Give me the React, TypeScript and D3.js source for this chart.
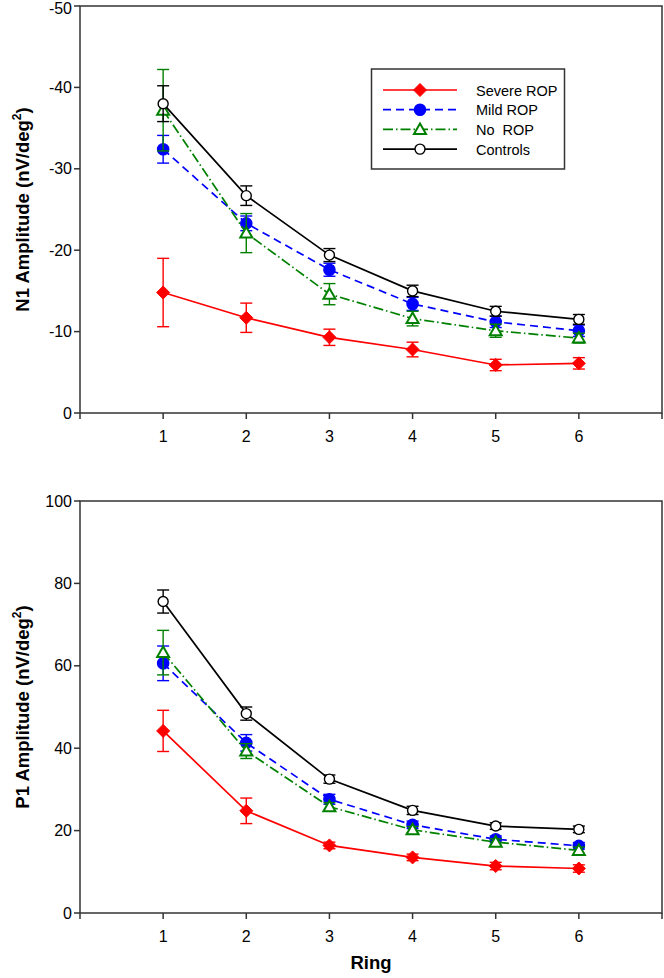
import React from 'react';
import * as d3 from 'd3';

const rings = [1, 2, 3, 4, 5, 6];
const xTicks = [0, 1, 2, 3, 4, 5, 6, 7];
const seriesNames = ['Severe ROP', 'Mild ROP', 'No  ROP', 'Controls'];

const severeN1 = [-14.8, -11.7, -9.3, -7.8, -5.9, -6.1];
const severeN1Err = [4.2, 1.8, 1.0, 0.9, 0.7, 0.7];
const mildN1 = [-32.4, -23.3, -17.6, -13.4, -11.2, -10.1];
const mildN1Err = [1.7, 0.9, 0.8, 0.8, 0.7, 0.7];
const noN1 = [-37.2, -22.1, -14.6, -11.6, -10.1, -9.2];
const noN1Err = [5.0, 2.4, 1.3, 0.9, 0.8, 0.6];
const ctrlN1 = [-38.0, -26.7, -19.4, -15.0, -12.5, -11.5];
const ctrlN1Err = [2.2, 1.2, 0.8, 0.7, 0.6, 0.6];

const severeP1 = [44.2, 24.8, 16.4, 13.5, 11.4, 10.8];
const severeP1Err = [5.0, 3.1, 0.8, 0.8, 0.9, 0.9];
const mildP1 = [60.6, 41.3, 27.6, 21.4, 17.9, 16.3];
const mildP1Err = [4.2, 2.0, 1.2, 0.9, 0.8, 0.8];
const noP1 = [63.2, 39.3, 25.8, 20.2, 17.2, 15.2];
const noP1Err = [5.4, 1.8, 1.0, 0.8, 0.8, 0.8];
const ctrlP1 = [75.6, 48.4, 32.5, 24.9, 21.1, 20.3];
const ctrlP1Err = [2.8, 1.6, 1.0, 1.0, 0.8, 0.8];

const n1Ticks = [0, -10, -20, -30, -40, -50];
const p1Ticks = [0, 20, 40, 60, 80, 100];

type Style = { color: string; dash: string; marker: string; fill: string };
const styles: Style[] = [
  { color: '#ff0000', dash: '', marker: 'diamond', fill: '#ff0000' },
  { color: '#0000ff', dash: '8,5', marker: 'circle', fill: '#0000ff' },
  { color: '#008000', dash: '10,3,1.5,3', marker: 'triangle', fill: '#ffffff' },
  { color: '#000000', dash: '', marker: 'circle', fill: '#ffffff' },
];

const FONT = 'Liberation Sans, Arial, Helvetica, sans-serif';
const AXIS = '#333';

function Marker({ x, y, s }: { x: number; y: number; s: Style }) {
  if (s.marker === 'diamond') {
    const r = 6.5;
    return <path d={`M${x},${y - r}L${x + r},${y}L${x},${y + r}L${x - r},${y}Z`} fill={s.fill} stroke={s.color} strokeWidth={1} />;
  }
  if (s.marker === 'triangle') {
    const r = 6;
    return <path d={`M${x},${y - r}L${x + r},${y + r * 0.75}L${x - r},${y + r * 0.75}Z`} fill={s.fill} stroke={s.color} strokeWidth={2} />;
  }
  return <circle cx={x} cy={y} r={s.fill === '#ffffff' ? 5 : 5.6} fill={s.fill} stroke={s.color} strokeWidth={1.4} />;
}

function Panel({ top, bottom, domain, ticks, data, errs, label, showLegend, showRing }: any) {
  const left = 80, right = 662;
  const x = d3.scaleLinear().domain([0, 7]).range([left, right]);
  const y = d3.scaleLinear().domain(domain).range([bottom, top]);
  const line = d3.line<number>().x((_, i) => x(rings[i])).y((v) => y(v));
  const midY = (top + bottom) / 2;
  return (
    <g>
      <rect x={left} y={top} width={right - left} height={bottom - top} fill="none" stroke={AXIS} strokeWidth={1.5} />
      {xTicks.map((t) => (
        <g key={'x' + t}>
          <line x1={x(t)} x2={x(t)} y1={bottom} y2={bottom + 6} stroke={AXIS} strokeWidth={1.5} />
          {t >= 1 && t <= 6 && (
            <text x={x(t)} y={bottom + 29} textAnchor="middle" fontSize={16} fontFamily={FONT}>{t}</text>
          )}
        </g>
      ))}
      {ticks.map((t: number) => (
        <g key={'y' + t}>
          <line x1={left - 6} x2={left} y1={y(t)} y2={y(t)} stroke={AXIS} strokeWidth={1.5} />
          <text x={left - 8} y={Math.max(y(t) + 5.5, 14)} textAnchor="end" fontSize={16} fontFamily={FONT}>{t}</text>
        </g>
      ))}
      <text transform={`translate(29,${midY}) rotate(-90)`} textAnchor="middle" fontSize={18.5} fontWeight="bold" fontFamily={FONT}>
        {label}
        <tspan dy={-8} fontSize={12}>2</tspan>
        <tspan dy={8}>)</tspan>
      </text>
      {data.map((vals: number[], si: number) => {
        const s = styles[si];
        return (
          <g key={si}>
            <path d={line(vals) || ''} fill="none" stroke={s.color} strokeWidth={1.7} strokeDasharray={s.dash || undefined} />
            {vals.map((v, i) => {
              const e = errs[si][i];
              const cx = x(rings[i]);
              return (
                <g key={i} stroke={s.color} strokeWidth={1.4}>
                  <line x1={cx} x2={cx} y1={y(v - e)} y2={y(v + e)} />
                  <line x1={cx - 6} x2={cx + 6} y1={y(v - e)} y2={y(v - e)} />
                  <line x1={cx - 6} x2={cx + 6} y1={y(v + e)} y2={y(v + e)} />
                </g>
              );
            })}
            {vals.map((v, i) => (
              <Marker key={'m' + i} x={x(rings[i])} y={y(v)} s={s} />
            ))}
          </g>
        );
      })}
      {showLegend && (
        <g>
          <rect x={371.5} y={69} width={193} height={100} fill="#fff" stroke={AXIS} strokeWidth={1.5} />
          {seriesNames.map((n, i) => {
            const ly = 90 + i * 19.7;
            const s = styles[i];
            return (
              <g key={n}>
                <line x1={383} x2={457} y1={ly} y2={ly} stroke={s.color} strokeWidth={1.7} strokeDasharray={s.dash || undefined} />
                <Marker x={420} y={ly} s={s} />
                <text x={476} y={ly + 5.5} fontSize={14.5} fontFamily={FONT} style={{ whiteSpace: 'pre' }}>{n}</text>
              </g>
            );
          })}
        </g>
      )}
      {showRing && (
        <text x={(left + right) / 2} y={bottom + 56} textAnchor="middle" fontSize={18.5} fontWeight="bold" fontFamily={FONT}>Ring</text>
      )}
    </g>
  );
}

export default function App() {
  return (
    <svg width={664} height={978} style={{ position: 'absolute', left: 0, top: 0, background: '#fff' }}>
      <rect width={664} height={978} fill="#fff" />
      <Panel top={6} bottom={413} domain={[0, -50]} ticks={n1Ticks}
        data={[severeN1, mildN1, noN1, ctrlN1]} errs={[severeN1Err, mildN1Err, noN1Err, ctrlN1Err]}
        label="N1 Amplitude (nV/deg" showLegend={true} showRing={false} />
      <Panel top={501} bottom={913} domain={[0, 100]} ticks={p1Ticks}
        data={[severeP1, mildP1, noP1, ctrlP1]} errs={[severeP1Err, mildP1Err, noP1Err, ctrlP1Err]}
        label="P1 Amplitude (nV/deg" showLegend={false} showRing={true} />
    </svg>
  );
}
